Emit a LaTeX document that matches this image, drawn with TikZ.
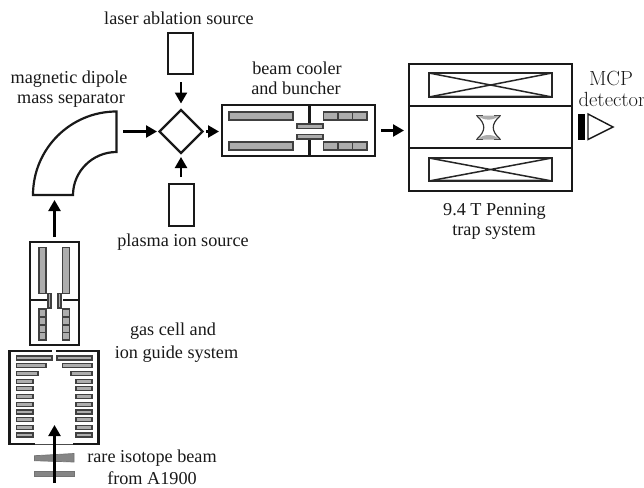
\documentclass[tikz,border=0pt]{standalone}
\usepackage{fontspec}
\setmainfont{Liberation Serif}
\newfontfamily\cmfont{Latin Modern Roman}
\usetikzlibrary{arrows.meta,shapes.geometric}
\tikzset{
  wall/.style={draw=black!90,line width=2.2pt},
  box/.style={draw=black!90,line width=2.2pt,inner sep=0pt,outer sep=0pt},
  coil/.style={draw=black!85,line width=1.5pt},
  elec/.style={draw=black!75,fill=black!32,line width=1.2pt},
  wedge/.style={draw=black!55,fill=black!48,line width=.7pt},
  flow/.style={draw=black,line width=2.3pt,-{Triangle[length=11pt,width=12pt]}},
  lab/.style={font=\fontsize{18.2}{20}\selectfont,inner sep=0pt,anchor=center,text=black!90},
  labcm/.style={font=\cmfont\fontsize{20.5}{22}\selectfont,inner sep=0pt,anchor=center,text=black!90}
}
\begin{document}
\begin{tikzpicture}[x=1pt,y=-1pt]
\useasboundingbox (0,0) rectangle (644,487);
% gas cell, upper part
\node[box,minimum width=49pt,minimum height=103pt] (gc) at (54.5,293.5) {};
\draw[wall] (30,300) -- (47,300) (63,300) -- (79,300);
\foreach \x in {39,62.5}{
  \draw[elec] (\x,247.5) rectangle ++(7,46);
  \foreach \y in {309,317,325,332.5} \draw[elec] (\x,\y) rectangle ++(7,7.5);
}
\draw[elec] (48,293.5) rectangle (51,308);
\draw[elec] (58,293.5) rectangle (61,308);
% ion guide, lower part
\draw[wall] (35,444) -- (9.5,444) -- (9.5,351) -- (52,351);
\draw[wall] (56,351) -- (98.5,351) -- (98.5,444) -- (73,444);
\draw[black!70,line width=0.8pt] (35,444) -- (73,444);
\foreach \i/\l/\r in {0/52/57,1/46/62.5,2/38/71,3/33/76,4/33/76,5/33/76,6/33/76,7/33/76,8/33/76,9/33/76,10/33/76}{
  \draw[elec] (16.5,{356+\i*7.7}) rectangle (\l,{360+\i*7.7});
  \draw[elec] (\r,{356+\i*7.7}) rectangle (92,{360+\i*7.7});
}
% beam optics
\draw[wedge] (34.5,455.7) -- (74,453.5) -- (74,462) -- (34.5,460.7) -- cycle;
\draw[wedge] (34.5,471.3) -- (74,471.3) -- (74,476) -- (34.5,476) -- cycle;
\coordinate (bs) at (54.5,483);
\coordinate (bt) at (54.5,425);
\draw[flow] (bs) -- (bt);
% dipole
\draw[wall] (33,195) .. controls (33,148.9) and (70.4,111.5) .. (116.5,111.5) -- (116.5,152)
  .. controls (92.5,152) and (73,171.5) .. (73,195) -- cycle;
\coordinate (dipB) at (54.5,195);
\coordinate (dipR) at (117,131.5);
% sources and separator
\node[box,minimum width=25pt,minimum height=41pt] (laser) at (180.5,53.5) {};
\node[box,minimum width=25pt,minimum height=42pt] (plasma) at (181.5,205) {};
\node[box,diamond,aspect=1,minimum width=43pt,minimum height=43pt] (sep) at (181,131.5) {};
% cooler
\node[box,minimum width=153pt,minimum height=51pt] (cooler) at (298.5,130.5) {};
\draw[line width=3pt,black!90] (309,105) -- (309,123) (309,139) -- (309,156);
\draw[elec] (229,112) rectangle (293,120);
\draw[elec] (229,142) rectangle (293,150);
\draw[elec] (297,124) rectangle (323,128.5);
\draw[elec] (297,134.5) rectangle (323,139);
\foreach \y in {112,142}{
  \draw[elec] (323.5,\y) rectangle ++(14.5,8);
  \draw[elec] (338,\y) rectangle ++(14.5,8);
  \draw[elec] (352.5,\y) rectangle ++(14.5,8);
}
% trap
\node[box,minimum width=163pt,minimum height=127pt] (trap) at (490.5,127.5) {};
\draw[wall] (trap.west |- 0,106) -- (trap.east |- 0,106) (trap.west |- 0,148) -- (trap.east |- 0,148);
\foreach \a/\b in {73/97,158/181}{
  \fill[black!30] (429,\b) -- (490.5,{(\a+\b)/2}) -- (552,\b) -- cycle;
  \fill[white] (429,{\b-1.8}) -- (490.5,{(\a+\b)/2}) -- (552,{\b-1.8}) -- cycle;
  \draw[coil] (429,\a) rectangle (552,\b);
  \draw[coil] (429,\a) -- (552,\b) (429,\b) -- (552,\a);
}
\fill[black!32] (478.5,115.5) -- (498.5,115.5) .. controls (495,121) and (482,121) .. cycle;
\fill[black!32] (478.5,139.5) -- (498.5,139.5) .. controls (495,133.5) and (482,133.5) .. cycle;
\draw[black!70,line width=1.1pt] (476,115.5) -- (483,115.5) (494,115.5) -- (501,115.5) (476,139.5) -- (483,139.5) (494,139.5) -- (501,139.5);
\draw[black!80,line width=1.2pt] (477,116) .. controls (486,124) and (486,131) .. (477,139)
 (500,116) .. controls (491,124) and (491,131) .. (500,139);
% detector
\node[draw=black,fill=black,inner sep=0pt,minimum width=6pt,minimum height=25pt] (plate) at (581,127) {};
\draw[line width=1.4pt,black!90] (588,114) -- (588,139.5) -- (613,127) -- cycle;
% connectors
\draw[flow,shorten <=5pt,shorten >=5pt] (gc.north) -- (dipB);
\draw[flow,shorten <=6pt,shorten >=2.5pt] (dipR) -- (sep.west);
\draw[flow,shorten <=8pt,shorten >=6.5pt] (sep.north |- laser.south) -- (sep.north);
\draw[flow,shorten <=7pt,shorten >=4pt] (plasma.north -| sep.south) -- (sep.south);
\draw[flow,shorten <=3.5pt,shorten >=3pt] (sep.east) -- (sep.east -| cooler.west);
\draw[flow,shorten <=6pt,shorten >=5pt] (cooler.east) -- (trap.west |- cooler.east);
% labels
\node[lab] (t1) at (179,18) {laser ablation source};
\node[lab] (t2) at (69,79) {magnetic dipole};
\node[lab] (t3) at (71,100) {mass separator};
\node[lab] (t4) at (297,68) {beam cooler};
\node[lab] (t5) at (296,88) {and buncher};
\node[lab] (t6) at (494.5,211) {9.4 T Penning};
\node[lab] (t7) at (494,232) {trap system};
\node[labcm] (t8) at (611,78) {MCP};
\node[labcm] (t9) at (612,99) {detector};
\node[lab] (t10) at (183,242) {plasma ion source};
\node[lab] (t11) at (173,331) {gas cell and};
\node[lab] (t12) at (176.5,354) {ion guide system};
\node[lab] (t13) at (152,458) {rare isotope beam};
\node[lab] (t14) at (152,478) {from A1900};
\end{tikzpicture}
\end{document}
